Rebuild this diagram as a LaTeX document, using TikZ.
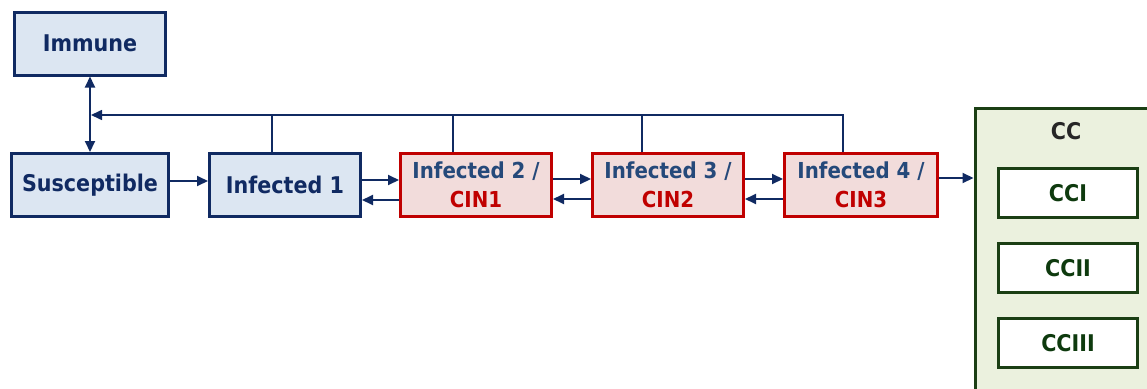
\documentclass[tikz,border=0pt]{standalone}
\usepackage{fontspec}
\setmainfont{DejaVu Sans Condensed}
\usetikzlibrary{arrows.meta,calc}
\definecolor{navy}{HTML}{102A62}
\definecolor{bluefill}{HTML}{DCE6F2}
\definecolor{redline}{HTML}{C00000}
\definecolor{redfill}{HTML}{F2DCDB}
\definecolor{steel}{HTML}{25497A}
\definecolor{ccline}{HTML}{1B3F14}
\definecolor{ccfill}{HTML}{EBF1DE}
\definecolor{cctext}{HTML}{0E3A0E}
\tikzset{
  tip/.tip={Triangle[length=11pt,width=10pt]},
  bluebox/.style={draw=navy, fill=bluefill, line width=3pt, minimum height=63pt, inner sep=0pt, font=\fontsize{23}{26}\selectfont\bfseries, text=navy},
  redbox/.style={draw=redline, fill=redfill, line width=3pt, minimum width=151pt, minimum height=63pt, inner sep=0pt, align=center, font=\fontsize{22}{29}\selectfont\bfseries, text=steel},
  subbox/.style={draw=ccline, fill=white, line width=3pt, minimum width=139pt, minimum height=49pt, inner sep=0pt, font=\fontsize{23}{26}\selectfont\bfseries, text=cctext},
  arr/.style={draw=navy, line width=2pt, -tip},
  fbline/.style={draw=navy, line width=1.6pt}
}
\begin{document}
\begin{tikzpicture}[x=1pt,y=-1pt]
\useasboundingbox (0,0) rectangle (1147,388);
\clip (0,0) rectangle (1147,388);
% nodes
\node[bluebox, minimum width=151pt] (imm) at (90,43.5) {Immune};
\node[bluebox, minimum width=157pt] (sus) at (90,185) {Susceptible};
\node[bluebox, minimum width=151pt] (inf1) at (285,185) {Infected 1};
\node[redbox] (inf2) at (476,185) {Infected 2 /\\\textcolor{redline}{CIN1}};
\node[redbox] (inf3) at (668,185) {Infected 3 /\\\textcolor{redline}{CIN2}};
\node[redbox, minimum width=153pt] (inf4) at (861,185) {Infected 4 /\\\textcolor{redline}{CIN3}};
\node[draw=ccline, fill=ccfill, line width=3pt, minimum width=190pt, minimum height=292pt, inner sep=0pt] (cc) at (1070,254) {};
\node[font=\fontsize{23}{26}\selectfont\bfseries, text=black!85] (cclab) at (1066,131) {CC};
\node[subbox] (cci) at (1068,193) {CCI};
\node[subbox] (ccii) at (1068,268) {CCII};
\node[subbox] (cciii) at (1068,343) {CCIII};
% feedback junctions
\coordinate (fb) at (91,115);
\coordinate (j1) at (272,115);
\coordinate (j2) at (453,115);
\coordinate (j3) at (642,115);
\coordinate (j4) at (843,115);
% connector end points
\coordinate (a0) at ($(sus.east)+(0,-4)$);
\coordinate (a1) at ($(inf1.east)+(0,-5)$);
\coordinate (b1) at ($(inf2.west)+(0,15)$);
\coordinate (a2) at ($(inf2.east)+(0,-6)$);
\coordinate (b2) at ($(inf3.west)+(0,14)$);
\coordinate (a3) at ($(inf3.east)+(0,-6)$);
\coordinate (b3) at ($(inf4.west)+(0,14)$);
\coordinate (a4) at ($(inf4.east)+(0,-7)$);
% connectors
\draw[navy, line width=2pt, tip-tip] (imm.south) -- (sus.north);
\draw[fbline, -tip] (inf4.north -| j4) -- (j4) -- (fb);
\draw[fbline] (inf1.north -| j1) -- (j1);
\draw[fbline] (inf2.north -| j2) -- (j2);
\draw[fbline] (inf3.north -| j3) -- (j3);
\draw[arr] (a0) -- (a0 -| inf1.west);
\draw[arr] (a1) -- (a1 -| inf2.west);
\draw[arr] (b1) -- (b1 -| inf1.east);
\draw[arr] (a2) -- (a2 -| inf3.west);
\draw[arr] (b2) -- (b2 -| inf2.east);
\draw[arr] (a3) -- (a3 -| inf4.west);
\draw[arr] (b3) -- (b3 -| inf3.east);
\draw[arr] (a4) -- (a4 -| cc.west);
\end{tikzpicture}
\end{document}
